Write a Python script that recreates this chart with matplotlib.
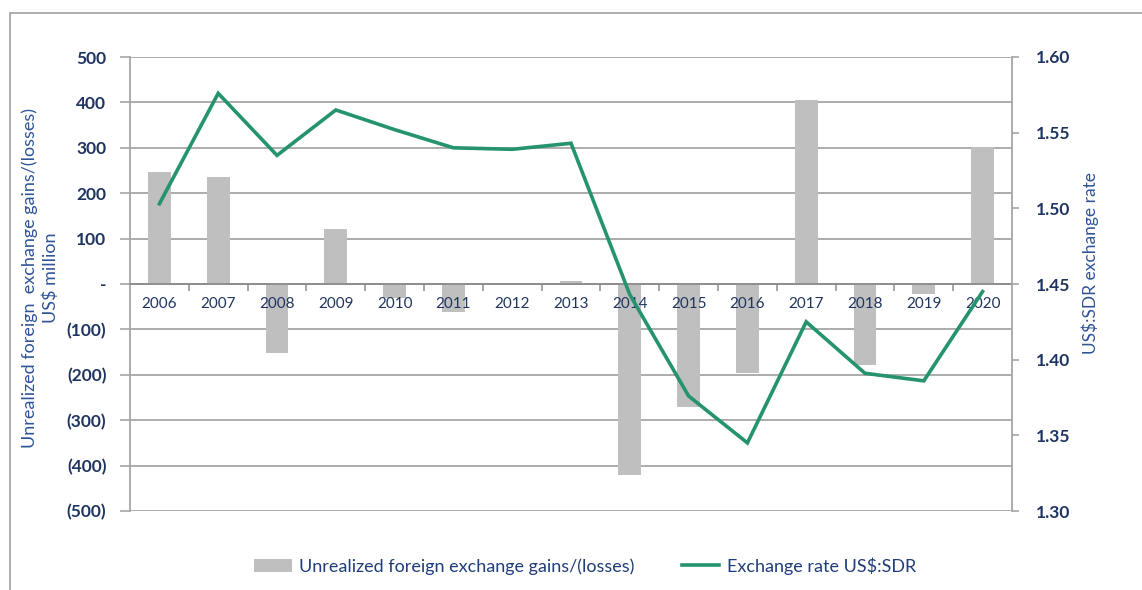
import matplotlib
matplotlib.use("Agg")
import numpy as np
import matplotlib.pyplot as plt
from matplotlib.ticker import FuncFormatter
from matplotlib.patches import Rectangle, Patch
from matplotlib.lines import Line2D

plt.rcParams["font.family"] = ["Lato", "DejaVu Sans"]

# ---- data ----
years = [str(y) for y in range(2006, 2021)]
fx_gains = [247, 236, -152, 121, -30, -61, 0, 6, -421, -271, -197, 405, -178, -21, 301]
usd_sdr = [1.503, 1.576, 1.535, 1.565, 1.552, 1.540, 1.539, 1.543,
           1.443, 1.376, 1.345, 1.425, 1.391, 1.386, 1.445]
left_ticks = [500, 400, 300, 200, 100, 0, -100, -200, -300, -400, -500]
right_ticks = [1.60, 1.55, 1.50, 1.45, 1.40, 1.35, 1.30]

bar_label = "Unrealized foreign exchange gains/(losses)"
line_label = "Exchange rate US$:SDR"

# ---- styling ----
BAR_C = "#bfbfbf"
LINE_C = "#25936e"
GRID_C = "#a6a6a6"
TICK_TXT = "#1f3560"
TITLE_TXT = "#2f5496"

W, H = 1142, 590
fig = plt.figure(figsize=(W / 100, H / 100), dpi=100)
fig.patch.set_facecolor("white")

ax = fig.add_axes([130 / W, 1 - 511 / H, 882 / W, 454 / H])
x = np.arange(len(years))

ax.set_xlim(-0.5, len(years) - 0.5)
ax.set_ylim(min(left_ticks), max(left_ticks))

for v in left_ticks:
    ax.axhline(v, color=GRID_C, lw=1.3, zorder=0.5)

ax.bar(x, fx_gains, width=0.39, color=BAR_C, zorder=1)


def paren_fmt(v, pos):
    if v == 0:
        return "-"
    if v < 0:
        return f"({abs(int(v))})"
    return f"{int(v)}"


ax.set_yticks(left_ticks)
ax.yaxis.set_major_formatter(FuncFormatter(paren_fmt))
ax.tick_params(axis="y", length=7, width=1.2, color=GRID_C, pad=10,
               labelsize=12.5, labelcolor=TICK_TXT)
for lab in ax.get_yticklabels():
    lab.set_fontweight("bold")

ax.spines["top"].set_visible(False)
ax.spines["right"].set_visible(False)
ax.spines["left"].set_color(GRID_C)
ax.spines["left"].set_linewidth(1.3)
ax.spines["bottom"].set_position(("data", 0))
ax.spines["bottom"].set_color("#8c8c8c")
ax.spines["bottom"].set_linewidth(1.3)

ax.set_xticks(x)
ax.set_xticklabels(years)
ax.set_xticks(np.arange(0.5, len(years) - 1, 1), minor=True)
ax.tick_params(axis="x", which="major", length=0, pad=9,
               labelsize=11, labelcolor=TICK_TXT)
ax.tick_params(axis="x", which="minor", length=5, width=1.1, color="#8c8c8c")

# ---- exchange rate line on secondary axis ----
ax2 = ax.twinx()
ax2.set_ylim(min(right_ticks), max(right_ticks))
ax2.plot(x, usd_sdr, color=LINE_C, lw=2.6, solid_joinstyle="miter")
ax2.set_yticks(right_ticks)
ax2.yaxis.set_major_formatter(FuncFormatter(lambda v, p: f"{v:.2f}"))
ax2.tick_params(axis="y", length=5, width=1.2, color=GRID_C, pad=12,
                labelsize=12.5, labelcolor=TICK_TXT)
for lab in ax2.get_yticklabels():
    lab.set_fontweight("bold")
for side in ("top", "left", "bottom"):
    ax2.spines[side].set_visible(False)
ax2.spines["right"].set_color(GRID_C)
ax2.spines["right"].set_linewidth(1.3)

# ---- axis titles ----
fig.text(40 / W, 1 - 278 / H,
         "Unrealized foreign  exchange gains/(losses)\nUS$ million",
         rotation=90, ha="center", va="center", multialignment="center",
         fontsize=13, color=TITLE_TXT, linespacing=1.35)
fig.text(1090 / W, 1 - 263 / H, "US$:SDR exchange rate",
         rotation=90, ha="center", va="center",
         fontsize=12.5, color=TITLE_TXT)

# ---- legend ----
handles = [Patch(facecolor=BAR_C, edgecolor="none", label=bar_label),
           Line2D([], [], color=LINE_C, lw=2.6, label=line_label)]
fig.legend(handles=handles, loc="center", bbox_to_anchor=(585 / W, 1 - 566 / H),
           ncol=2, frameon=False, fontsize=13, handlelength=2.1,
           handletextpad=0.4, columnspacing=2.6, labelcolor="#1f3d7a")

# ---- chart area border ----
fig.add_artist(Rectangle((10 / W, -0.1), 1.2, (1 - 13 / H) + 0.1,
                         transform=fig.transFigure, fill=False,
                         edgecolor="#a0a0a0", lw=1.2))

fig.savefig("out.png", dpi=100)
